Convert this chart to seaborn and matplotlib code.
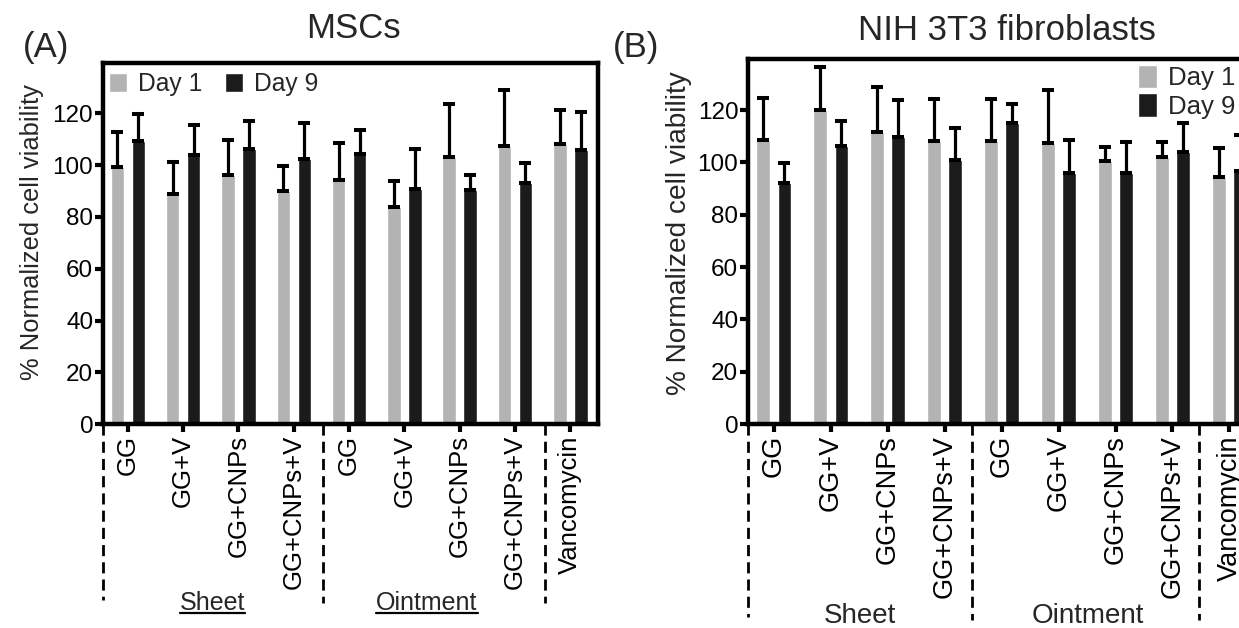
import numpy as np
import pandas as pd
import matplotlib
matplotlib.use("Agg")
import matplotlib.pyplot as plt
import matplotlib.transforms as mtransforms
from matplotlib.lines import Line2D
import seaborn as sns

treatments = ["GG", "GG+V", "GG+CNPs", "GG+CNPs+V",
              "GG", "GG+V", "GG+CNPs", "GG+CNPs+V", "Vancomycin"]
forms = ["Sheet"] * 4 + ["Ointment"] * 4 + ["Control"]
days = ["Day 1", "Day 9"]

# MSCs
mscs_day1 = [99.4, 88.7, 96.4, 90.0, 94.1, 83.7, 103.3, 107.5, 108.2]
mscs_day1_sd = [13.6, 12.6, 13.3, 9.7, 14.6, 10.2, 20.3, 21.5, 13.3]
mscs_day9 = [109.4, 103.9, 106.1, 102.4, 104.5, 91.0, 90.4, 93.0, 105.8]
mscs_day9_sd = [10.3, 11.6, 10.9, 14.1, 9.1, 15.2, 6.0, 7.7, 14.7]

# NIH 3T3 fibroblasts
nih_day1 = [108.5, 120.0, 111.7, 108.2, 108.3, 107.3, 100.6, 101.9, 94.5]
nih_day1_sd = [16.0, 16.3, 17.2, 16.0, 15.9, 20.3, 5.4, 5.7, 11.1]
nih_day9 = [92.0, 106.4, 109.6, 101.1, 114.9, 96.0, 96.0, 104.1, 96.8]
nih_day9_sd = [7.6, 9.5, 14.2, 12.0, 7.4, 12.5, 11.9, 10.8, 13.6]


def long_table(d1, s1, d9, s9):
    keys = [f"{f} {t}" for f, t in zip(forms, treatments)]
    rows = []
    for k, a, sa, b, sb in zip(keys, d1, s1, d9, s9):
        rows.append({"cond": k, "day": "Day 1", "val": a, "sd": sa})
        rows.append({"cond": k, "day": "Day 9", "val": b, "sd": sb})
    return pd.DataFrame(rows), keys


sns.set_theme(style="ticks")
plt.rcParams["font.family"] = ["Liberation Sans", "DejaVu Sans"]
palette = {"Day 1": "#b3b3b3", "Day 9": "#1b1b1b"}

fig = plt.figure(figsize=(12.39, 6.28), dpi=100)
axA = fig.add_axes([0.0831, 0.3248, 0.3995, 0.5749])
axB = fig.add_axes([0.6037, 0.3248, 0.4116, 0.5812])


def draw_panel(ax, df, keys, xfont, yfont):
    sns.barplot(data=df, x="cond", y="val", hue="day", order=keys,
                hue_order=days, palette=palette, width=0.76, gap=0.36,
                errorbar=None, legend=False, saturation=1, ax=ax)
    for cont, day in zip(ax.containers, days):
        sub = df[df["day"] == day].set_index("cond").loc[keys]
        xs = [p.get_x() + p.get_width() / 2 for p in cont.patches]
        ax.errorbar(xs, sub["val"].values,
                    yerr=[np.zeros(len(xs)), sub["sd"].values],
                    fmt="none", ecolor="black", elinewidth=2.3,
                    capsize=4.3, capthick=2.9, zorder=3)
    ax.set_xlim(-0.45, 8.5)
    ax.set_ylim(0, 139.5)
    ax.set_yticks(range(0, 121, 20))
    ax.tick_params(axis="y", length=6, width=3, labelsize=17.5, pad=1,
                   colors="black")
    ax.tick_params(axis="x", length=6, width=3, labelsize=xfont, pad=2,
                   colors="black")
    ax.set_xticks(range(len(keys)))
    ax.set_xticklabels(treatments, rotation=90, va="top", ha="center")
    for s in ax.spines.values():
        s.set_visible(True)
        s.set_linewidth(3.2)
        s.set_color("black")
    ax.set_xlabel("")
    ax.set_ylabel("% Normalized cell viability", fontsize=yfont)


dfA, keysA = long_table(mscs_day1, mscs_day1_sd, mscs_day9, mscs_day9_sd)
dfB, keysB = long_table(nih_day1, nih_day1_sd, nih_day9, nih_day9_sd)
draw_panel(axA, dfA, keysA, 18.5, 18.4)
draw_panel(axB, dfB, keysB, 19.5, 20.2)
axA.yaxis.set_label_coords(-0.119, 0.532)
axB.yaxis.set_label_coords(-0.11, 0.523)

axA.legend(axA.containers, days, loc="upper left", ncol=2,
           bbox_to_anchor=(0.012, 0.975), frameon=False, fontsize=17.7,
           handlelength=0.75, handleheight=0.85, handletextpad=0.45,
           columnspacing=0.9, borderpad=0, borderaxespad=0)
axB.legend(axB.containers, days, loc="upper left", ncol=1,
           bbox_to_anchor=(0.765, 0.985), frameon=False, fontsize=18.5,
           handlelength=0.72, handleheight=1.05, handletextpad=0.45,
           labelspacing=0.12, borderpad=0, borderaxespad=0)

# dashed separators below the axes
sepA = [-0.45, 3.52, 7.55]
endA = [-0.488, -0.496, -0.496]
sepB = [-0.45, 3.48, 7.46]
endB = [-0.529, -0.537, -0.537]
for ax, seps, ends in [(axA, sepA, endA), (axB, sepB, endB)]:
    tr = mtransforms.blended_transform_factory(ax.transData, ax.transAxes)
    for x, e in zip(seps, ends):
        ax.plot([x, x], [0, e], transform=tr, color="black", lw=2,
                ls=(0, (4, 2.2)), clip_on=False)

# group labels
trA = mtransforms.blended_transform_factory(axA.transData, axA.transAxes)
trB = mtransforms.blended_transform_factory(axB.transData, axB.transAxes)
underlined = []
for x, txt in [(1.53, "Sheet"), (5.41, "Ointment")]:
    t = axA.text(x, -0.515, txt, transform=trA, ha="center", va="baseline",
                 fontsize=18)
    underlined.append(t)
for x, txt in [(1.51, "Sheet"), (5.51, "Ointment")]:
    axB.text(x, -0.526, txt, transform=trB, ha="center", va="center",
             fontsize=20)

fig.text(353 / 1239, 1 - 29 / 628, "MSCs", ha="center", va="center",
         fontsize=25)
fig.text(1007 / 1239, 1 - 30 / 628, "NIH 3T3 fibroblasts", ha="center",
         va="center", fontsize=25)
fig.text(46 / 1239, 1 - 47 / 628, "(A)", ha="center", va="center",
         fontsize=25)
fig.text(636 / 1239, 1 - 47 / 628, "(B)", ha="center", va="center",
         fontsize=25)

fig.canvas.draw()
inv = fig.transFigure.inverted()
for t in underlined:
    bb = t.get_window_extent()
    x0, y0 = inv.transform((bb.x0, bb.y0))
    x1, _ = inv.transform((bb.x1, bb.y0))
    y_line = inv.transform((0, t.get_transform().transform(t.get_position())[1] - 3))[1]
    fig.add_artist(Line2D([x0, x1], [y_line, y_line], color="black", lw=1.6,
                          transform=fig.transFigure))

fig.savefig("out.png", dpi=100)
